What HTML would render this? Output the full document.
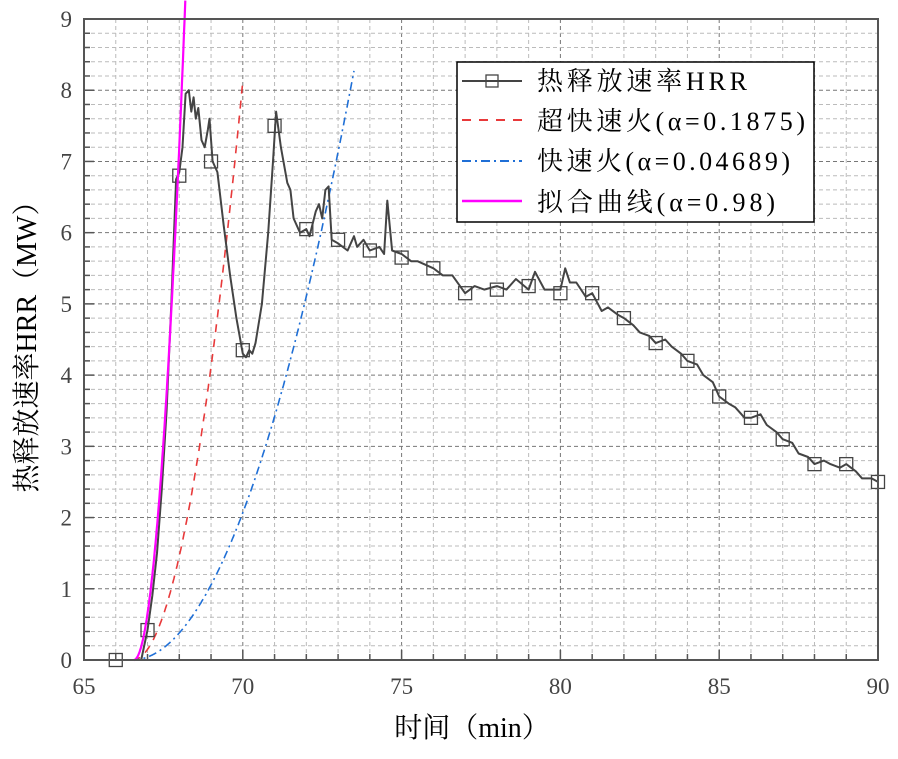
<!DOCTYPE html>
<html><head><meta charset="utf-8">
<style>
html,body{margin:0;padding:0;background:#fff;}
svg{display:block;font-family:"Liberation Serif","Noto Serif CJK SC",serif;}
</style></head>
<body>
<svg id="chart" width="898" height="759" viewBox="0 0 898 759" xmlns="http://www.w3.org/2000/svg">
<g id="grid"></g>
<g id="series"></g>
<g id="axes"></g>
<g id="legend">
  <rect x="457" y="62" width="357" height="160" fill="#fff" stroke="#000" stroke-width="1.5"/>
  <g>
    <line x1="462" y1="81" x2="522" y2="81" stroke="#444" stroke-width="2"/>
    <rect x="486" y="75" width="12" height="12" fill="none" stroke="#444" stroke-width="1.3"/>
    <text x="537" y="90" font-size="26" fill="#000" textLength="210" lengthAdjust="spacing">热释放速率HRR</text>
  </g>
  <g>
    <line x1="462" y1="120" x2="522" y2="120" stroke="#e8393a" stroke-width="2" stroke-dasharray="9,8"/>
    <text x="537" y="130" font-size="26" fill="#000" textLength="268" lengthAdjust="spacing">超快速火(α=0.1875)</text>
  </g>
  <g>
    <line x1="462" y1="161" x2="522" y2="161" stroke="#1f6fd6" stroke-width="2" stroke-dasharray="9,4,2,4"/>
    <text x="537" y="170" font-size="26" fill="#000" textLength="253" lengthAdjust="spacing">快速火(α=0.04689)</text>
  </g>
  <g>
    <line x1="462" y1="201" x2="522" y2="201" stroke="#ff00ff" stroke-width="2.5"/>
    <text x="537" y="211" font-size="26" fill="#000" textLength="238" lengthAdjust="spacing">拟合曲线(α=0.98)</text>
  </g>
</g>
<text x="472" y="737" font-size="28" text-anchor="middle" fill="#000">时间（min）</text>
<text transform="translate(36,340) rotate(-90)" font-size="28" text-anchor="middle" fill="#000">热释放速率HRR（MW）</text>
</svg>
<script>
const hrrTime = [65,66,66.8,67.0,67.15,67.3,67.45,67.6,67.75,67.9,68.0,68.1,68.2,68.3,68.38,68.45,68.52,68.6,68.7,68.8,68.9,68.95,69.05,69.2,69.4,69.6,69.8,70.0,70.1,70.2,70.3,70.4,70.6,70.8,70.95,71.05,71.2,71.4,71.5,71.6,71.8,72.0,72.1,72.3,72.4,72.5,72.6,72.7,72.8,73.0,73.3,73.5,73.6,73.8,74.0,74.3,74.45,74.55,74.7,75.0,75.3,75.5,76.0,76.3,76.6,77.0,77.3,77.6,78.0,78.3,78.6,79.0,79.2,79.5,80.0,80.15,80.3,80.5,80.8,81.0,81.3,81.5,81.8,82.0,82.3,82.5,82.8,83.0,83.3,83.5,83.8,84.0,84.3,84.5,84.8,85.0,85.3,85.5,85.8,86.0,86.3,86.5,86.8,87.0,87.3,87.5,87.8,88.0,88.3,88.5,88.8,89.0,89.3,89.5,89.8,90.0];
const hrrValue = [0,0,0,0.42,0.9,1.5,2.4,3.5,5.0,6.75,6.85,7.2,7.95,8.0,7.7,7.9,7.6,7.75,7.3,7.2,7.45,7.6,7.0,6.85,6.1,5.4,4.8,4.3,4.25,4.35,4.3,4.45,5.0,6.0,7.0,7.7,7.2,6.7,6.6,6.2,6.0,6.05,5.95,6.3,6.4,6.2,6.6,6.65,5.9,5.85,5.75,5.95,5.8,5.9,5.75,5.8,5.7,6.45,5.75,5.7,5.6,5.6,5.5,5.4,5.4,5.15,5.25,5.2,5.25,5.2,5.35,5.2,5.45,5.2,5.2,5.5,5.3,5.3,5.1,5.15,4.9,4.95,4.85,4.8,4.7,4.6,4.55,4.45,4.5,4.4,4.3,4.2,4.15,4.0,3.9,3.7,3.6,3.55,3.4,3.4,3.45,3.3,3.2,3.1,3.05,2.9,2.85,2.75,2.8,2.75,2.7,2.75,2.65,2.55,2.55,2.5];
const markerTimes = [66,67,68,69,70,71,72,73,74,75,76,77,78,79,80,81,82,83,84,85,86,87,88,89,90];
const markerValues = [0,0.42,6.8,7.0,4.35,7.5,6.05,5.9,5.75,5.65,5.5,5.15,5.2,5.25,5.15,5.15,4.8,4.45,4.2,3.7,3.4,3.1,2.75,2.75,2.5];
const alphaUltra = 0.1875, alphaFast = 0.04689, alphaFit = 0.98;
const t0Ultra = 66.53, t0Fast = 66.5, t0Fit = 66.57;
const tEndUltra = 70.0, tEndFast = 73.5, tEndFit = 68.2;
const xTicks = [65,70,75,80,85,90];
const yTicks = [0,1,2,3,4,5,6,7,8,9];

const NS="http://www.w3.org/2000/svg";
const L=84,R=878,T=19,B=660;
const xS=t=>L+(t-65)/25*(R-L);
const yS=v=>B-v/9*(B-T);
function mk(tag,attrs,parent){const e=document.createElementNS(NS,tag);for(const k in attrs)e.setAttribute(k,attrs[k]);parent.appendChild(e);return e;}
const grid=document.getElementById('grid'),series=document.getElementById('series'),axes=document.getElementById('axes');
for(let t=66;t<90;t++){
  const l=mk('line',{x1:xS(t),x2:xS(t),y1:T,y2:B,stroke:t%5===0?'#777':'#bbb','stroke-width':1,'stroke-dasharray':'4,3'},grid);
  
  
}
for(let i=1;i<45;i++){const v=i*0.2;
  const l=mk('line',{x1:L,x2:R,y1:yS(v),y2:yS(v),stroke:i%5===0?'#777':'#bbb','stroke-width':1,'stroke-dasharray':'4,3'},grid);
  
  
}
function t2(alpha,t0,tEnd){const pts=[];for(let t=t0;t<=tEnd+1e-9;t+=0.02){pts.push(xS(t).toFixed(1)+','+yS(alpha*Math.pow((t-t0)*60,2)/1000).toFixed(1));}return pts.join(' ');}
const cu=mk('polyline',{points:t2(alphaUltra,t0Ultra,tEndUltra),fill:'none',stroke:'#e8393a','stroke-width':1.6,'stroke-dasharray':'8,7'},series);


const cf=mk('polyline',{points:t2(alphaFast,t0Fast,tEndFast),fill:'none',stroke:'#1f6fd6','stroke-width':1.6,'stroke-dasharray':'8,4,2,4'},series);


const hp=hrrTime.map((t,i)=>xS(t).toFixed(1)+','+yS(hrrValue[i]).toFixed(1)).join(' ');
const ch=mk('polyline',{points:hp,fill:'none',stroke:'#444','stroke-width':2,'stroke-linejoin':'round'},series);


markerTimes.forEach((t,i)=>{
  const r=mk('rect',{x:xS(t)-6.5,y:yS(markerValues[i])-6.5,width:13,height:13,fill:'none',stroke:'#444','stroke-width':1.3},series);
  
  
});
const cm=mk('polyline',{points:t2(alphaFit,t0Fit,tEndFit),fill:'none',stroke:'#ff00ff','stroke-width':2.2},series);


const fr=mk('rect',{x:L,y:T,width:R-L,height:B-T,fill:'none',stroke:'#555','stroke-width':2},axes);


for(let i=1;i<45;i++){const len=i%5===0?10:6;
  const l=mk('line',{x1:L,x2:L+len,y1:yS(i*0.2),y2:yS(i*0.2),stroke:'#555','stroke-width':1.5},axes);
  
  
}
for(let t=66;t<90;t++){const len=t%5===0?10:6;
  const l=mk('line',{x1:xS(t),x2:xS(t),y1:B,y2:B-len,stroke:'#555','stroke-width':1.5},axes);
  
  
}
yTicks.forEach(v=>{const tx=mk('text',{x:L-12,y:yS(v)+8,'font-size':23,'text-anchor':'end',fill:'#444'},axes);tx.textContent=v;
  
  });
xTicks.forEach(t=>{const tx=mk('text',{x:xS(t),y:B+34,'font-size':23,'text-anchor':'middle',fill:'#444'},axes);tx.textContent=t;
  
  });
</script>
</body></html>
